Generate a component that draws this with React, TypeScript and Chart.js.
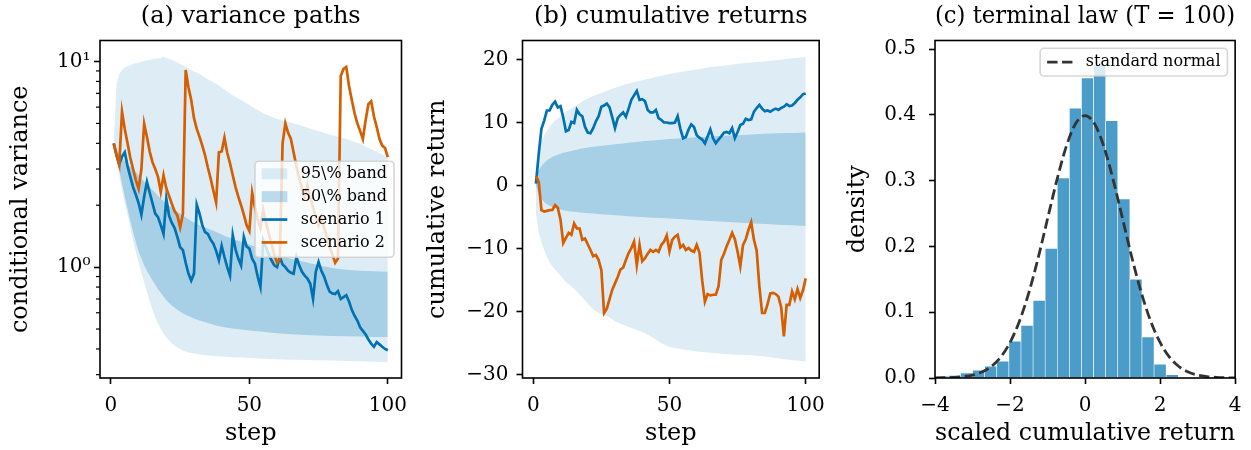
import React, { useEffect, useRef } from 'react';
import { Chart, registerables } from 'chart.js';

Chart.register(...registerables);

const FAMILY = "'DejaVu Serif', 'Liberation Serif', serif";
const BLUE = '#0072B2';
const ORANGE = '#D55E00';
const BAND95 = 'rgba(0,114,178,0.13)';
const BAND50 = 'rgba(0,114,178,0.25)';
const BAR = 'rgba(0,114,178,0.7)';
const NORMAL = '#333333';

// ---------- shared x positions ----------
const steps = Array.from({ length: 100 }, (_, i) => i + 1);
const bandSteps = [1, 2, 3, 4, 5, 6, 7, 8, 9, 10, 11, 12, 13, 14, 15, 16, 17, 18, 19, 20, 22, 24, 26, 28, 30, 32, 35, 38, 41, 44, 47, 50, 55, 60, 65, 70, 75, 80, 85, 90, 95, 100];

// ---------- (a) variance paths ----------
const scen1Var = [
  4.0, 3.5, 3.16, 3.45, 3.62, 3.1, 2.75, 2.45, 2.25, 2.05,
  1.8, 2.2, 2.6, 2.3, 2.05, 1.82, 1.75, 1.6, 1.45, 2.15,
  1.78, 1.64, 1.55, 1.4, 1.25, 1.21, 1.05, 0.93, 0.86, 0.93,
  2.01, 1.82, 1.6, 1.48, 1.45, 1.36, 1.3, 1.2, 1.08, 1.27,
  1.12, 1.0, 0.91, 1.43, 1.22, 1.1, 1.02, 1.4, 1.26, 1.23,
  1.1, 1.04, 0.9, 0.8, 1.35, 1.25, 1.15, 1.08, 1.02, 1.0,
  1.12, 1.03, 1.0, 0.96, 0.94, 0.93, 1.12, 1.02, 0.95, 0.91,
  0.88, 0.83, 0.7, 0.95, 1.06, 0.96, 0.9, 0.82, 0.76, 0.745,
  0.74, 0.764, 0.7, 0.715, 0.73, 0.68, 0.62, 0.58, 0.55, 0.51,
  0.49, 0.47, 0.445, 0.425, 0.41, 0.432, 0.421, 0.41, 0.4, 0.394,
];
const scen2Var = [
  4.0, 3.5, 3.15, 5.7, 4.7, 4.0, 3.4, 3.0, 2.65, 2.4,
  3.0, 4.98, 4.3, 3.65, 3.24, 3.0, 2.75, 2.32, 2.8, 2.42,
  2.22, 2.03, 1.87, 1.78, 1.56, 1.82, 9.1, 7.5, 6.5, 5.3,
  4.7, 4.3, 3.9, 3.5, 3.05, 2.7, 2.35, 2.06, 3.62, 3.65,
  4.26, 3.6, 3.2, 2.8, 2.45, 2.2, 2.0, 1.8, 1.6, 1.5,
  2.3, 1.95, 1.7, 1.55, 1.9, 1.65, 1.45, 1.3, 1.15, 1.05,
  1.1, 4.0, 5.0, 4.5, 4.2, 3.6, 3.1, 2.7, 2.4, 2.2,
  2.5, 2.2, 1.95, 1.75, 1.6, 1.75, 1.55, 1.4, 1.25, 1.15,
  1.05, 1.1, 8.5, 9.2, 9.4, 7.6, 6.5, 5.6, 5.0, 4.6,
  4.2, 5.2, 6.2, 6.4, 5.4, 4.8, 4.2, 3.9, 3.8, 3.43,
];
const var95Hi = [4.0, 7.7, 8.7, 9.1, 9.35, 9.5, 9.6, 9.75, 9.8, 9.9, 10.0, 10.05, 10.1, 10.2, 10.25, 10.3, 10.35, 10.4, 10.6, 10.4, 10.2, 9.9, 9.55, 9.25, 8.95, 8.7, 8.2, 7.8, 7.3, 6.85, 6.5, 6.15, 5.6, 5.25, 5.05, 4.82, 4.58, 4.38, 4.2, 3.98, 3.69, 3.43];
const var95Lo = [4.0, 3.3, 2.8, 2.35, 2.05, 1.8, 1.55, 1.35, 1.18, 1.05, 0.94, 0.84, 0.76, 0.68, 0.62, 0.57, 0.53, 0.5, 0.475, 0.455, 0.425, 0.405, 0.392, 0.385, 0.38, 0.376, 0.372, 0.369, 0.367, 0.365, 0.364, 0.362, 0.359, 0.357, 0.355, 0.354, 0.353, 0.352, 0.35, 0.349, 0.347, 0.346];
const var50Hi = [4.0, 3.75, 3.55, 3.4, 3.28, 3.18, 3.09, 3.0, 2.9, 2.8, 2.7, 2.6, 2.52, 2.45, 2.37, 2.3, 2.22, 2.15, 2.09, 2.03, 1.95, 1.86, 1.78, 1.71, 1.65, 1.6, 1.54, 1.48, 1.42, 1.37, 1.33, 1.29, 1.22, 1.15, 1.1, 1.06, 1.02, 0.99, 0.97, 0.96, 0.955, 0.95];
const var50Lo = [4.0, 3.4, 2.95, 2.55, 2.2, 1.92, 1.68, 1.48, 1.32, 1.19, 1.1, 1.02, 0.96, 0.91, 0.86, 0.82, 0.78, 0.75, 0.72, 0.69, 0.65, 0.62, 0.595, 0.578, 0.563, 0.55, 0.535, 0.52, 0.51, 0.503, 0.497, 0.492, 0.485, 0.477, 0.472, 0.468, 0.465, 0.463, 0.461, 0.46, 0.458, 0.457];

// ---------- (b) cumulative returns ----------
const scen1Ret = [
  0.3, 5.0, 9.0, 10.3, 11.9, 11.9, 12.8, 13.3, 12.4, 12.6,
  10.8, 8.6, 8.8, 10.1, 9.9, 12.0, 11.3, 11.0, 9.3, 8.4,
  8.3, 9.1, 10.2, 11.0, 12.5, 12.7, 13.0, 12.4, 10.8, 9.1,
  10.7, 11.2, 11.6, 10.9, 12.2, 13.6, 14.3, 15.0, 13.6, 13.7,
  13.4, 12.0, 11.6, 11.6, 12.0, 10.7, 10.4, 10.0, 10.0, 9.9,
  9.9, 10.0, 11.0, 9.0, 7.5, 7.7, 8.9, 9.7, 9.3, 8.0,
  7.6, 7.3, 6.7, 7.8, 8.9, 7.5, 6.7, 7.3, 7.8, 8.4,
  8.5, 8.3, 9.1, 7.5, 8.5, 9.6, 9.8, 10.6, 10.4, 10.5,
  11.7, 12.3, 12.8, 12.2, 11.8, 11.9, 11.7, 12.0, 12.2, 12.0,
  12.3, 12.5, 12.9, 12.6, 12.7, 13.1, 13.6, 14.0, 14.5, 14.6,
];
const scen2Ret = [
  1.5, 0.6, -3.9, -4.1, -4.0, -3.9, -3.85, -3.1, -3.5, -5.4,
  -9.1, -8.3, -7.5, -7.8, -6.0, -6.8, -6.8, -8.6, -8.4, -9.3,
  -10.2, -11.2, -11.0, -11.8, -13.4, -20.2, -19.5, -18.0, -16.5, -15.5,
  -14.5, -13.3, -13.0, -11.8, -10.7, -9.9, -8.9, -12.6, -9.4, -12.0,
  -11.5, -10.8, -10.2, -10.5, -10.2, -10.5, -9.4, -8.9, -7.9, -10.4,
  -8.6, -8.1, -7.8, -9.8, -9.4, -10.2, -9.9, -10.3, -10.5, -9.4,
  -10.6, -15.0, -18.4, -17.2, -17.4, -17.3, -17.3, -16.0, -11.8, -10.8,
  -9.6, -8.6, -7.5, -8.5, -10.5, -12.8, -9.4, -8.5, -7.0, -5.8,
  -8.6, -10.3, -16.0, -20.2, -20.2, -18.8, -17.1, -17.0, -17.2, -17.6,
  -19.3, -23.9, -18.9, -18.9, -16.8, -18.0, -16.4, -17.8, -16.6, -14.7,
];
const ret95Hi = [2.8, 5.7, 7.0, 8.0, 8.7, 9.3, 9.9, 10.3, 10.65, 11.0, 11.35, 11.7, 11.95, 12.2, 12.5, 12.8, 13.05, 13.3, 13.6, 13.8, 14.2, 14.55, 14.85, 15.2, 15.5, 15.8, 16.2, 16.5, 16.8, 17.1, 17.4, 17.7, 18.1, 18.4, 18.8, 19.0, 19.3, 19.5, 19.7, 19.9, 20.2, 20.4];
const ret95Lo = [-4.5, -7.5, -9.0, -10.2, -11.3, -12.2, -12.8, -13.3, -13.8, -14.2, -14.8, -15.3, -15.6, -16.0, -16.4, -16.8, -17.3, -17.7, -18.2, -18.7, -19.6, -20.2, -20.5, -20.9, -21.5, -21.9, -22.4, -22.9, -23.4, -24.1, -25.0, -25.6, -26.0, -26.3, -26.5, -26.7, -26.8, -26.9, -27.1, -27.4, -27.7, -27.9];
const ret50Hi = [1.2, 2.4, 3.1, 3.6, 4.0, 4.3, 4.55, 4.75, 4.9, 5.05, 5.2, 5.3, 5.4, 5.5, 5.6, 5.7, 5.8, 5.88, 5.95, 6.02, 6.15, 6.25, 6.35, 6.45, 6.55, 6.62, 6.8, 6.92, 7.05, 7.15, 7.27, 7.38, 7.5, 7.65, 7.8, 7.9, 8.0, 8.1, 8.2, 8.3, 8.35, 8.4];
const ret50Lo = [0.0, -1.5, -2.1, -2.6, -2.9, -3.2, -3.4, -3.55, -3.68, -3.8, -3.9, -4.0, -4.05, -4.1, -4.15, -4.2, -4.25, -4.3, -4.35, -4.38, -4.43, -4.5, -4.57, -4.63, -4.7, -4.75, -4.85, -4.93, -5.0, -5.08, -5.15, -5.23, -5.35, -5.5, -5.6, -5.75, -5.85, -5.95, -6.1, -6.2, -6.3, -6.4];

// ---------- (c) terminal law ----------
const histCenters = [-3.804, -3.481, -3.159, -2.836, -2.514, -2.192, -1.869, -1.547, -1.224, -0.902, -0.579, -0.257, 0.065, 0.388, 0.71, 1.033, 1.355, 1.678, 2.0, 2.322];
const histDensity = [0.0026, 0.004, 0.0076, 0.0117, 0.0178, 0.0254, 0.056, 0.08, 0.118, 0.197, 0.304, 0.41, 0.456, 0.476, 0.391, 0.272, 0.15, 0.0624, 0.0208, 0.0051];
const normalX = [-4, -3.75, -3.5, -3.25, -3, -2.75, -2.5, -2.25, -2, -1.75, -1.5, -1.25, -1, -0.75, -0.5, -0.25, 0, 0.25, 0.5, 0.75, 1, 1.25, 1.5, 1.75, 2, 2.25, 2.5, 2.75, 3, 3.25, 3.5, 3.75, 4];
const normalPdf = [0.0001, 0.0004, 0.0009, 0.002, 0.0044, 0.0091, 0.0175, 0.0317, 0.054, 0.0863, 0.1295, 0.1826, 0.242, 0.3011, 0.3521, 0.3867, 0.3989, 0.3867, 0.3521, 0.3011, 0.242, 0.1826, 0.1295, 0.0863, 0.054, 0.0317, 0.0175, 0.0091, 0.0044, 0.002, 0.0009, 0.0004, 0.0001];

// ---------- ticks, labels ----------
const stepTicks = [0, 50, 100];
const varTicks = [1, 10];
const varMinorTicks = [0.3, 0.4, 0.5, 0.6, 0.7, 0.8, 0.9, 2, 3, 4, 5, 6, 7, 8, 9];
const retTicks = [-30, -20, -10, 0, 10, 20];
const lawXTicks = [-4, -2, 0, 2, 4];
const lawYTicks = [0, 0.1, 0.2, 0.3, 0.4, 0.5];
const legendLabelsA = ['95\\% band', '50\\% band', 'scenario 1', 'scenario 2'];
const legendLabelC = 'standard normal';

const minusFmt = (v: number) => (v < 0 ? '\u2212' + Math.abs(v) : String(v));
const pts = (xs: number[], ys: number[]) => xs.map((x, i) => ({ x, y: ys[i] }));

function axis(o: any) {
  return {
    type: o.type,
    min: o.min,
    max: o.max,
    offset: false,
    afterBuildTicks: (s: any) => {
      s.ticks = o.ticks.map((v: number) => ({ value: v }));
    },
    ticks: {
      color: '#000',
      font: { family: FAMILY, size: 20 },
      padding: o.tickPad,
      maxRotation: 0,
      autoSkip: false,
      callback: (v: any) => o.fmt(Number(v)),
    },
    grid: {
      display: true,
      drawOnChartArea: false,
      drawTicks: true,
      tickLength: 6,
      tickWidth: 1.6,
      tickColor: '#000',
      offset: false,
    },
    border: { display: false },
    title: {
      display: true,
      text: o.title,
      color: '#000',
      font: { family: FAMILY, size: 24, weight: 'normal' },
      padding: o.isX ? { top: 0, bottom: o.titlePad } : { top: o.titlePad, bottom: 0 },
    },
    afterFit: (s: any) => {
      if (o.isX) s.height = o.size;
      else s.width = o.size;
    },
  };
}

function panelTitle(text: string) {
  return {
    display: true,
    text,
    color: '#000',
    fullSize: false,
    font: { family: FAMILY, size: 24, weight: 'normal' },
    padding: { top: 2.6, bottom: 9.1 },
  };
}

const spines = {
  id: 'spines',
  afterDatasetsDraw(chart: any) {
    const { ctx, chartArea: a } = chart;
    ctx.save();
    ctx.strokeStyle = '#000';
    ctx.lineWidth = 1.6;
    ctx.strokeRect(a.left, a.top, a.right - a.left, a.bottom - a.top);
    ctx.restore();
  },
};

function roundRect(ctx: CanvasRenderingContext2D, x: number, y: number, w: number, h: number, r: number) {
  ctx.beginPath();
  ctx.moveTo(x + r, y);
  ctx.lineTo(x + w - r, y);
  ctx.arcTo(x + w, y, x + w, y + r, r);
  ctx.lineTo(x + w, y + h - r);
  ctx.arcTo(x + w, y + h, x + w - r, y + h, r);
  ctx.lineTo(x + r, y + h);
  ctx.arcTo(x, y + h, x, y + h - r, r);
  ctx.lineTo(x, y + r);
  ctx.arcTo(x, y, x + r, y, r);
  ctx.closePath();
}

function legendFrame(ctx: CanvasRenderingContext2D, x: number, y: number, w: number, h: number) {
  roundRect(ctx, x, y, w, h, 4);
  ctx.fillStyle = 'rgba(255,255,255,0.8)';
  ctx.fill();
  ctx.strokeStyle = 'rgba(204,204,204,0.8)';
  ctx.lineWidth = 1.6;
  ctx.stroke();
}

const minorTicksA = {
  id: 'minorTicksA',
  afterDraw(chart: any) {
    const { ctx, chartArea: a, scales } = chart;
    ctx.save();
    ctx.strokeStyle = '#000';
    ctx.lineWidth = 1.2;
    varMinorTicks.forEach((v) => {
      const y = scales.y.getPixelForValue(v);
      ctx.beginPath();
      ctx.moveTo(a.left - 4, y);
      ctx.lineTo(a.left, y);
      ctx.stroke();
    });
    ctx.restore();
  },
};

const legendA = {
  id: 'legendA',
  afterDraw(chart: any) {
    const { ctx, chartArea: a } = chart;
    const w = 139;
    const h = 96;
    const x = a.right - 7.5 - w;
    const y = (a.top + a.bottom) / 2 - h / 2;
    ctx.save();
    legendFrame(ctx, x, y, w, h);
    const styles = [BAND95, BAND50, BLUE, ORANGE];
    legendLabelsA.forEach((label, i) => {
      const cy = y + 12.5 + 22.9 * i;
      if (i < 2) {
        ctx.fillStyle = styles[i];
        ctx.fillRect(x + 6.7, cy - 5.5, 25.6, 11);
      } else {
        ctx.strokeStyle = styles[i];
        ctx.lineWidth = 2.7;
        ctx.beginPath();
        ctx.moveTo(x + 6.7, cy);
        ctx.lineTo(x + 32.3, cy);
        ctx.stroke();
      }
      ctx.fillStyle = '#000';
      ctx.font = `16px ${FAMILY}`;
      ctx.textBaseline = 'middle';
      ctx.textAlign = 'left';
      ctx.fillText(label, x + 45.7, cy);
    });
    ctx.restore();
  },
};

const legendC = {
  id: 'legendC',
  afterDraw(chart: any) {
    const { ctx, chartArea: a } = chart;
    const w = 187.3;
    const h = 27.7;
    const x = a.right - 7.7 - w;
    const y = a.top + 7.8;
    ctx.save();
    legendFrame(ctx, x, y, w, h);
    const cy = y + h / 2;
    ctx.strokeStyle = NORMAL;
    ctx.lineWidth = 2.8;
    ctx.setLineDash([10.4, 4.5]);
    ctx.beginPath();
    ctx.moveTo(x + 7, cy);
    ctx.lineTo(x + 32.3, cy);
    ctx.stroke();
    ctx.setLineDash([]);
    ctx.fillStyle = '#000';
    ctx.font = `16px ${FAMILY}`;
    ctx.textBaseline = 'middle';
    ctx.textAlign = 'left';
    ctx.fillText(legendLabelC, x + 45.7, cy);
    ctx.restore();
  },
};

const hidden = { borderColor: 'transparent', borderWidth: 0, pointRadius: 0 };

function configA(): any {
  return {
    type: 'line',
    data: {
      datasets: [
        { label: 'lo95', data: pts(bandSteps, var95Lo), ...hidden, fill: false, order: 5 },
        { label: 'hi95', data: pts(bandSteps, var95Hi), ...hidden, fill: '-1', backgroundColor: BAND95, order: 4 },
        { label: 'lo50', data: pts(bandSteps, var50Lo), ...hidden, fill: false, order: 3 },
        { label: 'hi50', data: pts(bandSteps, var50Hi), ...hidden, fill: '-1', backgroundColor: BAND50, order: 2 },
        { label: 'scenario 1', data: pts(steps, scen1Var), borderColor: BLUE, borderWidth: 2.7, pointRadius: 0, fill: false, order: 1 },
        { label: 'scenario 2', data: pts(steps, scen2Var), borderColor: ORANGE, borderWidth: 2.7, pointRadius: 0, fill: false, order: 0 },
      ],
    },
    options: {
      animation: false,
      responsive: false,
      events: [],
      layout: { padding: { left: 0, right: 18.5, top: 0, bottom: 0 } },
      plugins: { legend: { display: false }, tooltip: { enabled: false }, title: panelTitle('(a) variance paths') },
      scales: {
        x: axis({ type: 'linear', min: -3.95, max: 104.95, ticks: stepTicks, fmt: minusFmt, title: 'step', titlePad: 1.6, size: 72, isX: true, tickPad: 9.5 }),
        y: axis({ type: 'logarithmic', min: 0.289, max: 12.65, ticks: varTicks, fmt: (v: number) => (v === 1 ? '10\u2070' : '10\u00B9'), title: 'conditional variance', titlePad: 6.4, size: 100, isX: false, tickPad: 3.5 }),
      },
    },
    plugins: [spines, minorTicksA, legendA],
  };
}

function configB(): any {
  return {
    type: 'line',
    data: {
      datasets: [
        { label: 'lo95', data: pts(bandSteps, ret95Lo), ...hidden, fill: false, order: 5 },
        { label: 'hi95', data: pts(bandSteps, ret95Hi), ...hidden, fill: '-1', backgroundColor: BAND95, order: 4 },
        { label: 'lo50', data: pts(bandSteps, ret50Lo), ...hidden, fill: false, order: 3 },
        { label: 'hi50', data: pts(bandSteps, ret50Hi), ...hidden, fill: '-1', backgroundColor: BAND50, order: 2 },
        { label: 'scenario 1', data: pts(steps, scen1Ret), borderColor: BLUE, borderWidth: 2.7, pointRadius: 0, fill: false, order: 1 },
        { label: 'scenario 2', data: pts(steps, scen2Ret), borderColor: ORANGE, borderWidth: 2.7, pointRadius: 0, fill: false, order: 0 },
      ],
    },
    options: {
      animation: false,
      responsive: false,
      events: [],
      layout: { padding: { left: 0, right: 15, top: 0, bottom: 0 } },
      plugins: { legend: { display: false }, tooltip: { enabled: false }, title: panelTitle('(b) cumulative returns') },
      scales: {
        x: axis({ type: 'linear', min: -3.95, max: 104.95, ticks: stepTicks, fmt: minusFmt, title: 'step', titlePad: 1.6, size: 72, isX: true, tickPad: 9.5 }),
        y: axis({ type: 'linear', min: -30.5, max: 23.0, ticks: retTicks, fmt: minusFmt, title: 'cumulative return', titlePad: 3.1, size: 102.5, isX: false, tickPad: 8 }),
      },
    },
    plugins: [spines],
  };
}

function configC(): any {
  return {
    type: 'bar',
    data: {
      datasets: [
        {
          type: 'bar',
          label: 'hist',
          data: pts(histCenters, histDensity),
          backgroundColor: BAR,
          borderColor: '#ffffff',
          borderWidth: { top: 0.6, left: 0.6, right: 0.6, bottom: 0 },
          borderSkipped: false,
          barPercentage: 1,
          categoryPercentage: 1,
          order: 1,
        },
        {
          type: 'line',
          label: legendLabelC,
          data: pts(normalX, normalPdf),
          borderColor: NORMAL,
          borderWidth: 2.8,
          borderDash: [10.4, 4.5],
          pointRadius: 0,
          fill: false,
          cubicInterpolationMode: 'monotone',
          order: 0,
        },
      ],
    },
    options: {
      animation: false,
      responsive: false,
      events: [],
      layout: { padding: { left: 0, right: 15, top: 0, bottom: 0 } },
      plugins: { legend: { display: false }, tooltip: { enabled: false }, title: panelTitle('(c) terminal law (T = 100)') },
      scales: {
        x: axis({ type: 'linear', min: -4, max: 4, ticks: lawXTicks, fmt: minusFmt, title: 'scaled cumulative return', titlePad: 1.6, size: 72, isX: true, tickPad: 9.5 }),
        y: axis({ type: 'linear', min: 0, max: 0.513, ticks: lawYTicks, fmt: (v: number) => v.toFixed(1), title: 'density', titlePad: 8.6, size: 100, isX: false, tickPad: 13 }),
      },
    },
    plugins: [spines, legendC],
  };
}

export default function App() {
  const refA = useRef<HTMLCanvasElement>(null);
  const refB = useRef<HTMLCanvasElement>(null);
  const refC = useRef<HTMLCanvasElement>(null);

  useEffect(() => {
    const charts = [
      new Chart(refA.current as HTMLCanvasElement, configA()),
      new Chart(refB.current as HTMLCanvasElement, configB()),
      new Chart(refC.current as HTMLCanvasElement, configC()),
    ];
    return () => charts.forEach((c) => c.destroy());
  }, []);

  const cs = (left: number, width: number): React.CSSProperties => ({ position: 'absolute', left, top: 0, width, height: 450 });

  return (
    <div style={{ position: 'absolute', left: 0, top: 0, width: 1251, height: 450, background: '#fff', overflow: 'hidden' }}>
      <canvas ref={refA} width={420} height={450} style={cs(0, 420)} />
      <canvas ref={refB} width={415} height={450} style={cs(420, 415)} />
      <canvas ref={refC} width={416} height={450} style={cs(835, 416)} />
    </div>
  );
}
